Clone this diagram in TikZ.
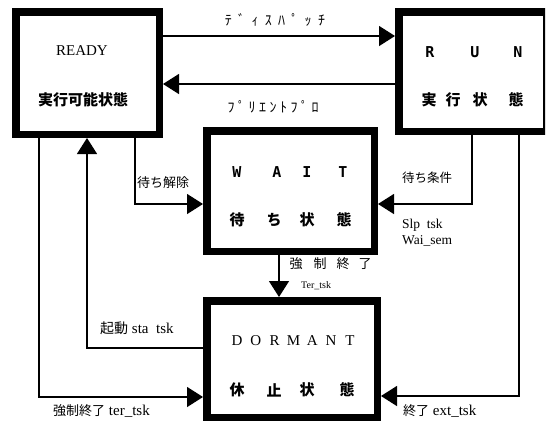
\documentclass[tikz,border=0pt]{standalone}
\usepackage{fontspec}
\setmainfont{Liberation Serif}
\newfontfamily\jp{Noto Sans CJK JP}
\newfontfamily\jpk{Noto Sans CJK JP}[LetterSpace=45]
\newfontfamily\jpl{Noto Sans CJK JP}[LetterSpace=25]
\newfontfamily\monob{DejaVu Sans Mono}
\usetikzlibrary{arrows.meta}
\begin{document}
\begin{tikzpicture}[x=1pt,y=-1pt,
  box/.style={draw=black,line width=7.5pt,fill=white,inner sep=0pt},
  arr/.style={line width=1.3pt,-{Triangle[length=16pt,width=20pt]}},
  lbl/.style={inner sep=0pt,anchor=west},
  ch/.style={inner sep=0pt,font=\jp\bfseries\fontsize{15}{15}\selectfont},
  lt/.style={inner sep=0pt,font=\monob\bfseries\fontsize{15}{15}\selectfont},
  sl/.style={inner sep=0pt,font=\fontsize{15}{15}\selectfont}]
\useasboundingbox (0,0) rectangle (547,421);
\fill[white] (0,0) rectangle (547,421);
% boxes
\node[box,minimum width=143.5pt,minimum height=122.5pt] (ready) at (87.5,73) {};
\begin{scope}
\clip (0,0) rectangle (545,421);
\node[box,minimum width=147.5pt,minimum height=119.5pt] (run) at (472.5,71.5) {};
\end{scope}
\node[box,minimum width=167.5pt,minimum height=120.5pt] (wait) at (290.5,191) {};
\node[box,minimum width=170.5pt,minimum height=116.5pt] (dormant) at (292,359) {};
% helper coordinates
\coordinate (yD) at (0,36);
\coordinate (yP) at (0,84);
\coordinate (yW) at (0,204);
\coordinate (yS) at (0,348);
\coordinate (yT) at (0,397);
\coordinate (yE) at (0,396);
\coordinate (x39) at (39,0);
\coordinate (x87) at (87,0);
\coordinate (x135) at (135,0);
\coordinate (x472) at (472,0);
\coordinate (x519) at (519,0);
\coordinate (x279) at (279,0);
% connectors
\draw[arr] (ready.east |- yD) -- (run.west |- yD);
\draw[arr] (run.west |- yP) -- (ready.east |- yP);
\draw[arr] (ready.south -| x135) |- (wait.west |- yW);
\draw[arr] (run.south -| x472) |- (wait.east |- yW);
\draw[arr] (wait.south -| x279) -- (dormant.north -| x279);
\draw[arr] (dormant.west |- yS) -| (ready.south -| x87);
\draw[arr] (ready.south -| x39) |- (dormant.west |- yT);
\draw[arr] (run.south -| x519) |- (dormant.east |- yE);
% READY texts
\node[sl] (tready) at (82,51) {READY};
\node[ch] (tready2) at (83,100) {実行可能状態};
% RUN texts
\node[lt] (r1) at (430,52) {R};
\node[lt] (r2) at (475,52) {U};
\node[lt] (r3) at (518,52) {N};
\node[ch] (r4) at (429,100) {実};
\node[ch] (r5) at (453,100) {行};
\node[ch] (r6) at (480,100) {状};
\node[ch] (r7) at (516,100) {態};
% WAIT texts
\node[lt] (w1) at (237,172) {W};
\node[lt] (w2) at (277,172) {A};
\node[lt] (w3) at (307,172) {I};
\node[lt] (w4) at (343,172) {T};
\node[ch] (w5) at (237,220) {待};
\node[ch] (w6) at (274,220) {ち};
\node[ch] (w7) at (307,220) {状};
\node[ch] (w8) at (344,220) {態};
% DORMANT texts
\foreach \c [count=\i from 0] in {D,O,R,M,A,N,T}
  \node[sl] (dm\i) at (237+\i*18.83,341) {\c};
\node[ch] (d1) at (237,390) {休};
\node[ch] (d2) at (274,390) {止};
\node[ch] (d3) at (307,390) {状};
\node[ch] (d4) at (347,390) {態};
% labels
\node[inner sep=0pt,font=\jpk\fontsize{14}{14}\selectfont] (ldisp) at (275,20) {ﾃﾞｨｽﾊﾟｯﾁ};
\node[inner sep=0pt,font=\jpl\fontsize{14}{14}\selectfont] (lpre) at (273,107) {ﾌﾟﾘｴﾝﾄﾌﾟﾛ};
\node[lbl,font=\jp\fontsize{13}{13}\selectfont] (lwr) at (137,183) {待ち解除};
\node[lbl,font=\jp\fontsize{12.5}{12.5}\selectfont] (lwc) at (402,178) {待ち条件};
\node[lbl,font=\fontsize{13.5}{13.5}\selectfont] (lslp) at (402,225) {Slp\ \ tsk};
\node[lbl,font=\fontsize{13.5}{13.5}\selectfont] (lwai) at (402,241) {Wai\_sem};
\node[inner sep=0pt,font=\jp\fontsize{13}{13}\selectfont] (k1) at (296,264) {強};
\node[inner sep=0pt,font=\jp\fontsize{13}{13}\selectfont] (k2) at (320,264) {制};
\node[inner sep=0pt,font=\jp\fontsize{13}{13}\selectfont] (k3) at (343,264) {終};
\node[inner sep=0pt,font=\jp\fontsize{13}{13}\selectfont] (k4) at (365,264) {了};
\node[lbl,font=\fontsize{10}{10}\selectfont] (lter) at (301,286) {Ter\_tsk};
\node[lbl,font=\fontsize{15}{15}\selectfont] (lsta) at (100,328) {{\jp\fontsize{14}{14}\selectfont 起動} sta\ \ tsk};
\node[lbl,font=\fontsize{15}{15}\selectfont] (lterk) at (53,411) {{\jp\fontsize{13}{13}\selectfont 強制終了} ter\_tsk};
\node[lbl,font=\fontsize{15}{15}\selectfont] (lext) at (403,411) {{\jp\fontsize{13}{13}\selectfont 終了} ext\_tsk};
\end{tikzpicture}
\end{document}
